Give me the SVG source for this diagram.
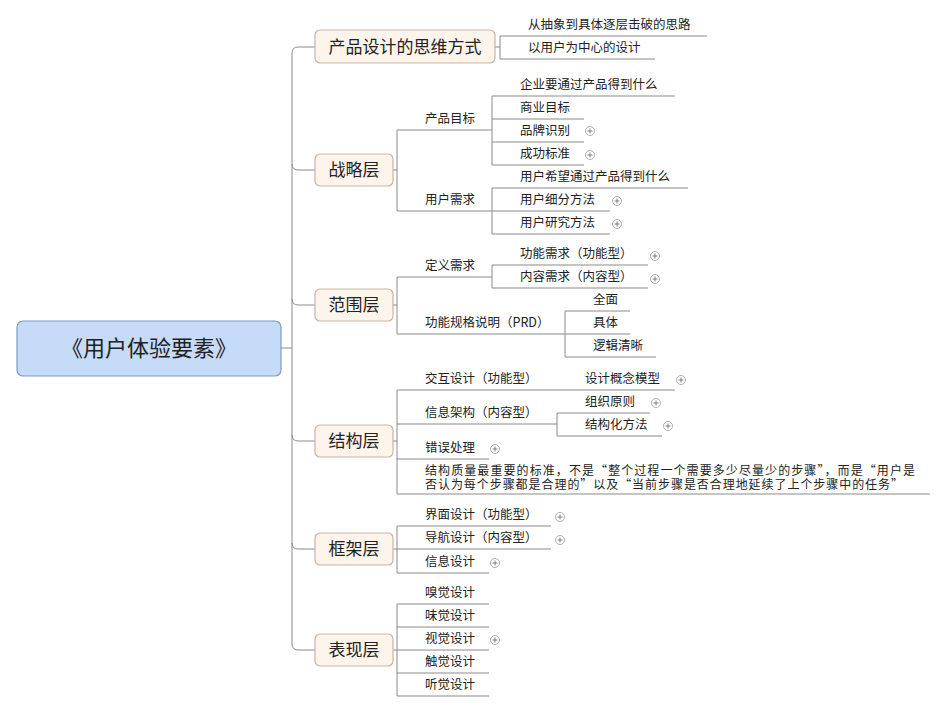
<svg xmlns="http://www.w3.org/2000/svg" width="947" height="713" viewBox="0 0 947 713">
<defs>
<style>
text{font-family:"Noto Sans CJK SC","Liberation Sans",sans-serif;fill:#222}
.t{font-size:12.5px}
.s{font-size:12px}
.n{font-size:17px}
.r{font-size:22px}
.box{fill:#fdf4ec;stroke:#c9b5a2;stroke-width:1.2}
.ln{fill:none;stroke:#8a8a8a;stroke-width:1}
</style>
<g id="plus"><circle cx="0" cy="0" r="4.5" fill="#fff" stroke="#999" stroke-width="0.8"/><path d="M-2.5 0H2.5M0 -2.5V2.5" stroke="#666" stroke-width="0.8" fill="none"/></g>
</defs>
<rect width="947" height="713" fill="#fff"/>
<g id="connectors" class="ln">
<path d="M281 348H292"/>
<path d="M315 47H298Q292 47 292 53V644Q292 650 298 650H315"/>
<path d="M292 164Q292 170 298 170H315M292 299Q292 305 298 305H315M292 435Q292 441 298 441H315M292 543Q292 549 298 549H315"/>
<path d="M495 47H500M500 36V59M500 36H707M500 59H655"/>
<path d="M393 170H397M397 130V211M397 130H492M397 211H492"/>
<path d="M492 96V165M492 96H675M492 119H584M492 142H584M492 165H584"/>
<path d="M492 188V234M492 188H688M492 211H610M492 234H610"/>
<path d="M393 305H397M397 277V334M397 277H492M397 334H565"/>
<path d="M492 265V288M492 265H648M492 288H648"/>
<path d="M565 311V357M565 311H630M565 334H630M565 357H656"/>
<path d="M393 441H397M397 390V494M397 390H675M397 424H557M557 413V436M557 413H650M557 436H662M397 459H489M397 494H930"/>
<path d="M393 549H397M397 526V573M397 526H551M397 549H551M397 573H489"/>
<path d="M393 650H397M397 604V696M397 604H489M397 627H489M397 650H489M397 673H489M397 696H489"/>
</g>
<g id="root"><rect x="17" y="321" width="264" height="55" rx="6" fill="#c6dbf7" stroke="#7f9cc2" stroke-width="1.2"/><text class="r" x="149" y="356" text-anchor="middle">《用户体验要素》</text></g>
<g id="n1"><rect class="box" x="315" y="30" width="180" height="33" rx="5"/><text class="n" x="405" y="53" text-anchor="middle">产品设计的思维方式</text>
<text class="t" x="528" y="29">从抽象到具体逐层击破的思路</text><text class="t" x="528" y="52">以用户为中心的设计</text></g>
<g id="n2"><rect class="box" x="315" y="154" width="78" height="32" rx="5"/><text class="n" x="354" y="176" text-anchor="middle">战略层</text>
<text class="t" x="425" y="123">产品目标</text><text class="t" x="425" y="204">用户需求</text>
<text class="t" x="520" y="89">企业要通过产品得到什么</text><text class="t" x="520" y="112">商业目标</text><text class="t" x="520" y="135">品牌识别</text><text class="t" x="520" y="158">成功标准</text>
<text class="t" x="520" y="181">用户希望通过产品得到什么</text><text class="t" x="520" y="204">用户细分方法</text><text class="t" x="520" y="227">用户研究方法</text></g>
<g id="n3"><rect class="box" x="315" y="289" width="78" height="32" rx="5"/><text class="n" x="354" y="311" text-anchor="middle">范围层</text>
<text class="t" x="425" y="270">定义需求</text><text class="t" x="425" y="327">功能规格说明（PRD）</text>
<text class="t" x="520" y="258">功能需求（功能型）</text><text class="t" x="520" y="281">内容需求（内容型）</text>
<text class="t" x="593" y="304">全面</text><text class="t" x="593" y="327">具体</text><text class="t" x="593" y="350">逻辑清晰</text></g>
<g id="n4"><rect class="box" x="315" y="425" width="78" height="32" rx="5"/><text class="n" x="354" y="447" text-anchor="middle">结构层</text>
<text class="t" x="425" y="383">交互设计（功能型）</text><text class="t" x="585" y="383">设计概念模型</text>
<text class="t" x="425" y="417">信息架构（内容型）</text><text class="t" x="585" y="406">组织原则</text><text class="t" x="585" y="429">结构化方法</text>
<text class="t" x="425" y="452">错误处理</text>
<text class="s"><tspan x="425" y="475" textLength="490" lengthAdjust="spacing">结构质量最重要的标准，不是“整个过程一个需要多少尽量少的步骤”，而是“用户是</tspan><tspan x="425" y="489" textLength="478" lengthAdjust="spacing">否认为每个步骤都是合理的”以及“当前步骤是否合理地延续了上个步骤中的任务”</tspan></text></g>
<g id="n5"><rect class="box" x="315" y="533" width="78" height="32" rx="5"/><text class="n" x="354" y="555" text-anchor="middle">框架层</text>
<text class="t" x="425" y="519">界面设计（功能型）</text><text class="t" x="425" y="542">导航设计（内容型）</text><text class="t" x="425" y="566">信息设计</text></g>
<g id="n6"><rect class="box" x="315" y="634" width="78" height="32" rx="5"/><text class="n" x="354" y="656" text-anchor="middle">表现层</text>
<text class="t" x="425" y="597">嗅觉设计</text><text class="t" x="425" y="620">味觉设计</text><text class="t" x="425" y="643">视觉设计</text><text class="t" x="425" y="666">触觉设计</text><text class="t" x="425" y="689">听觉设计</text></g>
<g id="plusmarks">
<use href="#plus" x="590" y="131"/><use href="#plus" x="590" y="155"/><use href="#plus" x="617" y="201"/><use href="#plus" x="617" y="224"/>
<use href="#plus" x="655" y="256"/><use href="#plus" x="655" y="279"/>
<use href="#plus" x="681" y="380"/><use href="#plus" x="656" y="403"/><use href="#plus" x="668" y="426"/><use href="#plus" x="495" y="449"/>
<use href="#plus" x="560" y="517"/><use href="#plus" x="560" y="540"/><use href="#plus" x="495" y="563"/><use href="#plus" x="495" y="640"/>
</g>
</svg>
